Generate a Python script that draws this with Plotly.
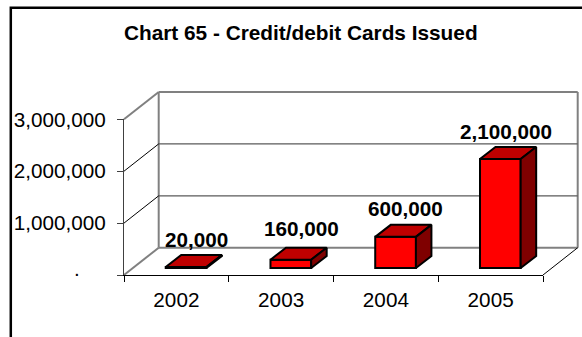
import plotly.graph_objects as go

years = ["2002", "2003", "2004", "2005"]
cards = [20000, 160000, 600000, 2100000]
value_ticks = [0, 1000000, 2000000, 3000000]
value_tick_labels = ["", "1,000,000", "2,000,000", "3,000,000"]
label_texts = ["20,000", "160,000", "600,000", "2,100,000"]
label_dx = [20, 20, 20, 15.4]
label_dy = [34, 38.7, 35, 34.3]

W, H = 582, 337
L, R, B, T = 124, 543, 275, 119.3
FONT = "Liberation Sans, Arial, sans-serif"
px_x = (R - L) / 4            # pixels per category
px_y = (B - T) / 3000000      # pixels per unit value
def ux(p): return p / px_x
def uy(p): return p / px_y

WALL_DX, WALL_DY = ux(34.7), uy(27.3)
BAR_DX, BAR_DY = ux(9.7), uy(7)
BAR_W = ux(40.7)
DEP_X, DEP_Y = ux(15.5), uy(12)

fig = go.Figure()

xs = [i + BAR_DX for i in range(4)]
fig.add_trace(go.Bar(
    x=xs, y=cards, base=[BAR_DY] * 4, width=BAR_W,
    marker=dict(color="#ff0000", line=dict(color="#000000", width=2)),
    cliponaxis=False, hoverinfo="skip", showlegend=False))

topx, topy, sidex, sidey = [], [], [], []
for x, v in zip(xs, cards):
    x0, x1 = x - BAR_W / 2, x + BAR_W / 2
    y0, y1 = BAR_DY, BAR_DY + v
    topx += [x0, x1, x1 + DEP_X, x0 + DEP_X, x0, None]
    topy += [y1, y1, y1 + DEP_Y, y1 + DEP_Y, y1, None]
    sidex += [x1, x1 + DEP_X, x1 + DEP_X, x1, x1, None]
    sidey += [y0, y0 + DEP_Y, y1 + DEP_Y, y1, y0, None]
for px, py, col in [(topx, topy, "#bf0000"), (sidex, sidey, "#7f0000")]:
    fig.add_trace(go.Scatter(
        x=px, y=py, mode="lines", fill="toself", fillcolor=col,
        line=dict(color="#000000", width=2), cliponaxis=False,
        hoverinfo="skip", showlegend=False))

x0, x1 = -0.5, 3.5
GREY = "#808080"
def seg(xa, ya, xb, yb, color, width):
    # wall lines run outside the front plane, so they are placed on the paper
    def fx(x): return (L + (x - x0) * px_x) / W
    def fy(y): return (H - B + y * px_y) / H
    fig.add_shape(type="line", xref="paper", yref="paper",
                  x0=fx(xa), y0=fy(ya), x1=fx(xb), y1=fy(yb),
                  line=dict(color=color, width=width), layer="below")

# back wall frame and gridlines
seg(x0 + WALL_DX, WALL_DY, x0 + WALL_DX, 3000000 + WALL_DY, GREY, 2)
seg(x0 + WALL_DX, 3000000 + WALL_DY, x1 + WALL_DX, 3000000 + WALL_DY, GREY, 2)
seg(x1 + WALL_DX, 3000000 + WALL_DY, x1 + WALL_DX, WALL_DY, GREY, 2)
seg(x0 + WALL_DX, WALL_DY, x1 + WALL_DX, WALL_DY, GREY, 2)
seg(x0 + WALL_DX, 1000000 + WALL_DY, x1 + WALL_DX, 1000000 + WALL_DY, "#5a5a5a", 1.3)
seg(x0 + WALL_DX, 2000000 + WALL_DY, x1 + WALL_DX, 2000000 + WALL_DY, "#5a5a5a", 1.3)
# side wall
seg(x0, 3000000, x0 + WALL_DX, 3000000 + WALL_DY, GREY, 2)
seg(x0, 2000000, x0 + WALL_DX, 2000000 + WALL_DY, "#000000", 1)
seg(x0, 1000000, x0 + WALL_DX, 1000000 + WALL_DY, "#000000", 1)
seg(x0, 0, x0 + WALL_DX, WALL_DY, GREY, 2)
seg(x1, 0, x1 + WALL_DX, WALL_DY, "#000000", 1)

for i, (t, v, dx, dy) in enumerate(zip(label_texts, cards, label_dx, label_dy)):
    fig.add_annotation(x=i, y=v, xref="x", yref="y", text=t, showarrow=False,
                       xshift=dx, yshift=dy, yanchor="middle",
                       font=dict(family=FONT, size=20.7, color="#000000", weight="bold"))

fig.add_annotation(x=72 / W, y=(H - 282) / H, xref="paper", yref="paper", text=".",
                   showarrow=False, font=dict(family=FONT, size=20.7, color="#000000"))

# outer frame, open on the right and at the bottom
fig.add_shape(type="path", xref="paper", yref="paper",
              path=f"M {10.8 / W} 0 L {10.8 / W} {(H - 7.8) / H} L 1 {(H - 7.8) / H}",
              line=dict(color="#000000", width=2.5))

fig.update_layout(
    width=W, height=H, margin=dict(l=0, r=0, t=0, b=0, autoexpand=False), autosize=False,
    paper_bgcolor="#ffffff", plot_bgcolor="rgba(0,0,0,0)", showlegend=False,
    title=dict(text="Chart 65 - Credit/debit Cards Issued", x=300.8 / W, xanchor="center",
               y=(H - 33) / H, yanchor="middle",
               font=dict(family=FONT, size=20.8, color="#000000", weight="bold")),
    xaxis=dict(domain=[L / W, R / W], range=[x0, x1], type="linear",
               tickmode="array", tickvals=[0, 1, 2, 3], ticktext=years,
               ticks="", showgrid=False, zeroline=False, showline=True,
               linecolor="#000000", linewidth=1, ticklabelstandoff=6,
               tickfont=dict(family=FONT, size=20.7, color="#000000"),
               minor=dict(tick0=-0.5, dtick=1, ticks="outside", ticklen=6,
                          tickcolor="#000000", tickwidth=1, showgrid=False)),
    yaxis=dict(domain=[(H - B) / H, (H - T) / H], range=[0, 3000000],
               tickmode="array", tickvals=value_ticks, ticktext=value_tick_labels,
               ticks="outside", ticklen=6, tickcolor="#404040", tickwidth=1,
               showgrid=False, zeroline=False, showline=True,
               linecolor="#404040", linewidth=1.3, ticklabelstandoff=7,
               tickfont=dict(family=FONT, size=20.7, color="#000000")),
)

fig.write_html("out.html", config=dict(displayModeBar=False),
               post_script="document.body.style.margin='0';")
